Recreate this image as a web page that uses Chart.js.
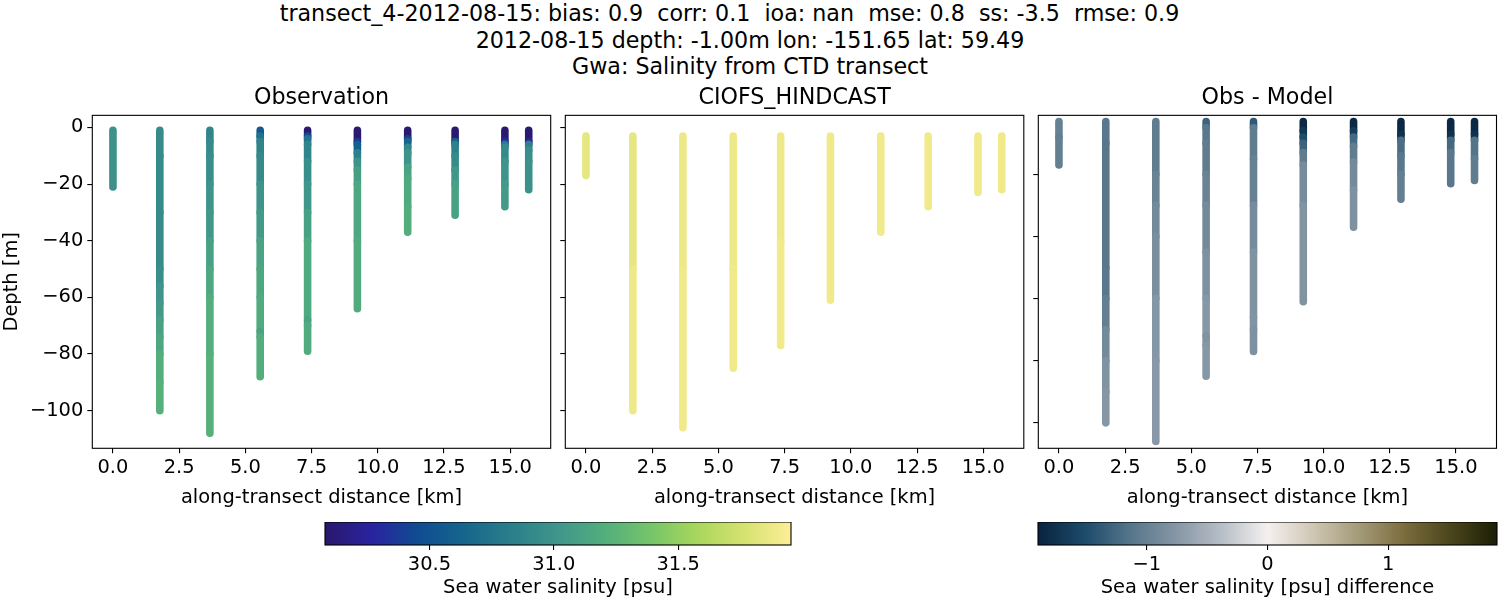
<!DOCTYPE html>
<html>
<head>
<meta charset="utf-8">
<script src="https://cdn.jsdelivr.net/npm/chart.js@4"></script>
<style>
  body { margin: 0; background: #fff; width: 1500px; height: 600px; overflow: hidden; position: relative; }
  canvas { position: absolute; }
  #suptitle { position: absolute; left: 0; top: 0; width: 1500px; text-align: center;
    font: 22.2px/26.6px "DejaVu Sans"; color: #000; white-space: pre; }
  #suptitle div:first-child { padding-right: 41px; }
</style>
</head>
<body>
<div id="suptitle"><div>transect_4-2012-08-15: bias: 0.9  corr: 0.1  ioa: nan  mse: 0.8  ss: -3.5  rmse: 0.9</div><div>2012-08-15 depth: -1.00m lon: -151.65 lat: 59.49</div><div>Gwa: Salinity from CTD transect</div></div>
<canvas id="obsChart" style="left:0;top:85px" width="556" height="425"></canvas>
<canvas id="modelChart" style="left:552px;top:85px" width="477" height="425"></canvas>
<canvas id="diffChart" style="left:1025px;top:85px" width="475" height="425"></canvas>
<canvas id="salinityBar" style="left:300px;top:522px" width="520" height="78"></canvas>
<canvas id="diffBar" style="left:1020px;top:522px" width="480" height="78"></canvas>
<script>
"use strict";

const castDistances = [0, 1.77, 3.66, 5.56, 7.35, 9.23, 11.13, 12.92, 14.8, 15.7];

const obsDepths = [
  [-1, -8, -15, -21],
  [-1, -10, -30, -50, -56, -62, -68, -74, -80, -90, -100],
  [-1, -5, -10, -20, -30, -40, -50, -60, -80, -108],
  [-1, -3, -5, -10, -20, -30, -40, -50, -60, -72, -74, -88],
  [-1, -3, -4, -6, -12, -20, -30, -40, -68, -70, -79],
  [-1, -5, -6, -9, -12, -15, -20, -40, -64],
  [-1, -4, -5, -7, -9, -14, -18, -28, -37],
  [-1, -5, -6, -10, -15, -20, -31],
  [-1, -5, -6, -7, -12, -20, -28],
  [-1, -5, -6, -8, -12, -22],
];
const obsSalinity = [
  [30.98, 30.98, 30.98, 30.98],
  [30.93, 30.92, 30.93, 30.95, 31.0, 31.04, 31.1, 31.14, 31.2, 31.22, 31.24],
  [30.88, 30.92, 30.95, 31.0, 31.03, 31.1, 31.15, 31.2, 31.22, 31.23],
  [30.55, 30.75, 30.88, 30.93, 31.0, 31.05, 31.12, 31.16, 31.18, 31.12, 31.2, 31.2],
  [30.1, 30.45, 30.75, 30.88, 30.95, 31.02, 31.1, 31.17, 31.12, 31.18, 31.18],
  [30.1, 30.35, 30.6, 30.85, 31.0, 31.08, 31.15, 31.18, 31.16],
  [30.1, 30.4, 30.65, 30.9, 31.0, 31.12, 31.17, 31.2, 31.2],
  [30.1, 30.6, 30.85, 30.93, 31.03, 31.1, 31.12],
  [30.1, 30.3, 30.8, 30.92, 31.0, 31.05, 31.05],
  [30.1, 30.25, 30.85, 30.95, 30.98, 30.98],
];

const modelDepths = [
  [-3, -17],
  [-3, -50, -100],
  [-3, -50, -106],
  [-3, -50, -85],
  [-3, -40, -77],
  [-3, -30, -61],
  [-3, -20, -37],
  [-3, -15, -28],
  [-3, -12, -23],
  [-3, -12, -22],
];
const modelSalinity = [
  [31.84, 31.84], [31.85, 31.88], [31.87, 31.89], [31.88, 31.89], [31.88, 31.89],
  [31.89, 31.89], [31.89, 31.89], [31.89, 31.89], [31.89, 31.89], [31.89, 31.89],
];

const diffDepths = [
  [-3, -8, -13, -17],
  [-3, -10, -30, -50, -60, -70, -80, -90, -100],
  [-3, -10, -20, -30, -40, -60, -80, -106],
  [-3, -5, -10, -20, -30, -45, -60, -72, -75, -85],
  [-3, -5, -15, -30, -45, -66, -70, -77],
  [-3, -6, -8, -10, -13, -17, -30, -50, -61],
  [-3, -6, -8, -11, -16, -25, -37],
  [-3, -7, -9, -14, -20, -28],
  [-3, -7, -9, -13, -23],
  [-3, -7, -9, -15, -22],
];
const diffValues = [
  [-1.0, -1.02, -1.02, -1.0],
  [-1.1, -1.12, -1.12, -1.1, -1.02, -0.9, -0.8, -0.76, -0.74],
  [-1.05, -1.05, -0.98, -0.9, -0.85, -0.76, -0.74, -0.74],
  [-1.3, -1.1, -1.05, -0.98, -0.9, -0.82, -0.75, -0.8, -0.75, -0.74],
  [-1.4, -1.05, -1.0, -0.88, -0.8, -0.78, -0.82, -0.8],
  [-1.85, -1.7, -1.5, -1.3, -1.05, -0.88, -0.8, -0.8, -0.85],
  [-1.85, -1.65, -1.25, -1.05, -0.9, -0.82, -0.78],
  [-1.85, -1.75, -1.2, -1.1, -1.02, -0.9],
  [-1.85, -1.75, -1.25, -1.1, -0.98],
  [-1.85, -1.75, -1.15, -1.05, -1.0],
];

const distanceTicks = [0, 2.5, 5, 7.5, 10, 12.5, 15];
const distanceTickLabels = ["0.0", "2.5", "5.0", "7.5", "10.0", "12.5", "15.0"];
const depthTicks = [0, -20, -40, -60, -80, -100];
const depthTickLabels = ["0", "\u221220", "\u221240", "\u221260", "\u221280", "\u2212100"];
const diffDepthTicks = [-20, -40, -60, -80, -100];

const salinityRange = [30.08, 31.954];
const salinityTicks = [30.5, 31.0, 31.5];
const salinityTickLabels = ["30.5", "31.0", "31.5"];
const diffRange = [-1.9, 1.9];
const diffTicks = [-1, 0, 1];
const diffTickLabels = ["\u22121", "0", "1"];

// colormaps sampled off the two colour bars
const halineColors = ["#2a186c", "#29239f", "#0f4c91", "#16668c", "#2a7f8a", "#40968a",
  "#53ae7c", "#76c569", "#a9d75d", "#d6e26f", "#fdee99"];
const diffColors = ["#08233f", "#1c4a69", "#55758a", "#8596a4", "#b7bec6", "#f4f0ef",
  "#cfc6b3", "#a39a78", "#7a6c3c", "#4a451b", "#1c1f06"];

const textFont = { family: "DejaVu Sans", size: 19.44 };
Chart.defaults.color = "#000";
Chart.defaults.animation = false;

function hexToRgb(hex) {
  return [1, 3, 5].map((i) => parseInt(hex.slice(i, i + 2), 16));
}

function colorAt(colors, range, value) {
  const t = Math.min(1, Math.max(0, (value - range[0]) / (range[1] - range[0]))) * (colors.length - 1);
  const i = Math.min(colors.length - 2, Math.floor(t));
  const a = hexToRgb(colors[i]);
  const b = hexToRgb(colors[i + 1]);
  const rgb = a.map((c, k) => Math.round(c + (b[k] - c) * (t - i)));
  return `rgb(${rgb[0]},${rgb[1]},${rgb[2]})`;
}

const frame = {
  id: "frame",
  afterDraw(chart) {
    const { ctx, chartArea: a } = chart;
    ctx.save();
    ctx.strokeStyle = "#000";
    ctx.lineWidth = 1.1;
    ctx.strokeRect(a.left, a.top, a.right - a.left, a.bottom - a.top);
    ctx.restore();
  },
};

function makeTransect(id, cfg) {
  const datasets = castDistances.map((dist, c) => ({
    data: cfg.depths[c].map((d) => ({ x: dist, y: d })),
    showLine: true,
    pointRadius: 0,
    borderWidth: 7.6,
    borderCapStyle: "round",
    borderColor: colorAt(cfg.colors, cfg.range, cfg.values[c][0]),
    segment: {
      borderColor: (ctx) => colorAt(cfg.colors, cfg.range, cfg.values[c][ctx.p0DataIndex]),
    },
  }));

  new Chart(document.getElementById(id), {
    type: "scatter",
    data: { datasets },
    plugins: [frame],
    options: {
      responsive: false,
      devicePixelRatio: 1,
      layout: { autoPadding: false, padding: { right: cfg.rightPad } },
      plugins: {
        legend: { display: false },
        tooltip: { enabled: false },
        title: {
          display: true,
          text: cfg.title,
          fullSize: false,
          font: { family: "DejaVu Sans", size: 22.2, weight: "normal" },
          padding: { top: 0, bottom: 3.7 },
        },
      },
      scales: {
        x: {
          type: "linear",
          min: -0.78,
          max: 16.53,
          afterBuildTicks: (s) => { s.ticks = distanceTicks.map((v) => ({ value: v })); },
          afterFit: (s) => { s.height = 61.7; },
          grid: { drawOnChartArea: false, tickLength: 5, tickColor: "#000", lineWidth: 1.1 },
          border: { display: false },
          ticks: {
            font: textFont, padding: 3, maxRotation: 0, autoSkip: false,
            callback: (v, i) => distanceTickLabels[i],
          },
          title: { display: true, text: "along-transect distance [km]", font: textFont, padding: 0 },
        },
        y: {
          type: "linear",
          min: cfg.yMin,
          max: cfg.yMax,
          afterBuildTicks: (s) => { s.ticks = cfg.yTicks.map((v) => ({ value: v })); },
          afterFit: (s) => { s.width = cfg.axisWidth; },
          grid: { drawOnChartArea: false, tickLength: 5, tickColor: "#000", lineWidth: 1.1 },
          border: { display: false },
          ticks: {
            font: textFont, padding: 4, autoSkip: false,
            callback: (v, i) => (cfg.yLabels ? cfg.yLabels[i] : ""),
          },
          title: { display: !!cfg.yTitle, text: cfg.yTitle, font: textFont, padding: 0 },
        },
      },
    },
  });
}

function makeColorbar(id, cfg) {
  new Chart(document.getElementById(id), {
    type: "bar",
    data: {
      labels: [cfg.title],
      datasets: [{
        data: [cfg.range],
        barPercentage: 1,
        categoryPercentage: 1,
        backgroundColor: (ctx) => {
          const a = ctx.chart.chartArea;
          if (!a) return cfg.colors[0];
          const g = ctx.chart.ctx.createLinearGradient(a.left, 0, a.right, 0);
          cfg.colors.forEach((c, i) => g.addColorStop(i / (cfg.colors.length - 1), c));
          return g;
        },
      }],
    },
    plugins: [frame],
    options: {
      indexAxis: "y",
      responsive: false,
      devicePixelRatio: 1,
      layout: { autoPadding: false, padding: { left: cfg.leftPad, right: cfg.rightPad } },
      plugins: { legend: { display: false }, tooltip: { enabled: false } },
      scales: {
        y: { display: false },
        x: {
          type: "linear",
          min: cfg.range[0],
          max: cfg.range[1],
          afterBuildTicks: (s) => { s.ticks = cfg.ticks.map((v) => ({ value: v })); },
          afterFit: (s) => { s.height = 55; },
          grid: { drawOnChartArea: false, tickLength: 5, tickColor: "#000", lineWidth: 1.1 },
          border: { display: false },
          ticks: {
            font: textFont, padding: 3, maxRotation: 0, autoSkip: false,
            callback: (v, i) => cfg.tickLabels[i],
          },
          title: { display: true, text: cfg.title, font: textFont, padding: 0 },
        },
      },
    },
  });
}

makeTransect("obsChart", {
  title: "Observation", depths: obsDepths, values: obsSalinity,
  colors: halineColors, range: salinityRange,
  yMin: -113.3, yMax: 4.27, yTicks: depthTicks, yLabels: depthTickLabels,
  yTitle: "Depth [m]", axisWidth: 92.3, rightPad: 5.3,
});
makeTransect("modelChart", {
  title: "CIOFS_HINDCAST", depths: modelDepths, values: modelSalinity,
  colors: halineColors, range: salinityRange,
  yMin: -113.3, yMax: 4.27, yTicks: depthTicks,
  axisWidth: 13.3, rightPad: 5.2,
});
makeTransect("diffChart", {
  title: "Obs - Model", depths: diffDepths, values: diffValues,
  colors: diffColors, range: diffRange,
  yMin: -108.2, yMax: -1.0, yTicks: diffDepthTicks,
  axisWidth: 13.3, rightPad: 3.5,
});

makeColorbar("salinityBar", {
  title: "Sea water salinity [psu]", range: salinityRange, colors: halineColors,
  ticks: salinityTicks, tickLabels: salinityTickLabels, leftPad: 25, rightPad: 29,
});
makeColorbar("diffBar", {
  title: "Sea water salinity [psu] difference", range: diffRange, colors: diffColors,
  ticks: diffTicks, tickLabels: diffTickLabels, leftPad: 18, rightPad: 3,
});
</script>
</body>
</html>
